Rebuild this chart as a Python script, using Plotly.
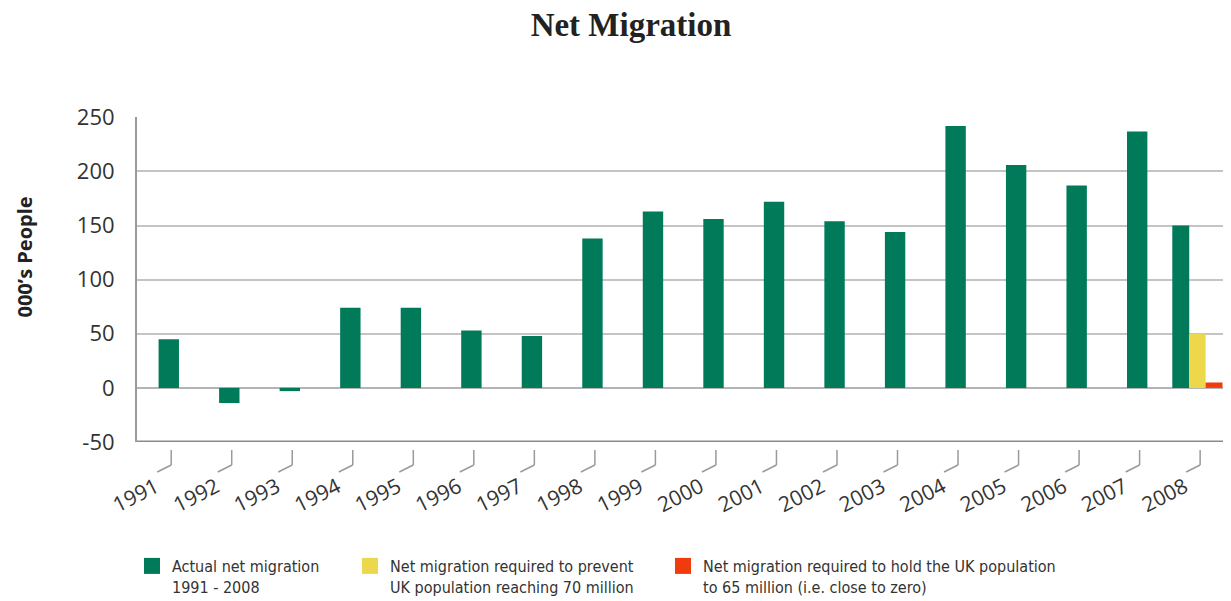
import plotly.graph_objects as go

years = ["1991", "1992", "1993", "1994", "1995", "1996", "1997", "1998", "1999",
         "2000", "2001", "2002", "2003", "2004", "2005", "2006", "2007", "2008"]
actual = [45, -14, -3, 74, 74, 53, 48, 138, 163, 156, 172, 154, 144, 242, 206, 187, 237, 150]
required_70m_year = ["2008"]
required_70m = [50]
required_65m_year = ["2008"]
required_65m = [5]
y_ticks = [-50, 0, 50, 100, 150, 200, 250]
y_tick_text = ["-50", "0", "50", "100", "150", "200", "250"]

GREEN = "#007a58"
YELLOW = "#ecd84a"
RED = "#f03c0c"
TXT = "#333333"
LEG_FONT = "DejaVu Sans Condensed, Roboto, sans-serif"

# page body has an 8px margin: figure coordinates = reference pixels - 8
OFF = 8
W, H = 1231 - OFF, 601 - OFF

n = len(years)
xpos = list(range(n))
g_width = [0.337] * (n - 1) + [0.28]
g_offset = [-0.1685] * (n - 1) + [-0.42]

fig = go.Figure()
fig.add_trace(go.Bar(x=xpos, y=actual, width=g_width, offset=g_offset,
                     marker=dict(color=GREEN, line=dict(width=0)), showlegend=False,
                     name="Actual net migration 1991 - 2008"))
fig.add_trace(go.Bar(x=[years.index(y) for y in required_70m_year], y=required_70m,
                     width=[0.27], offset=[-0.14],
                     marker=dict(color=YELLOW, line=dict(width=0)), showlegend=False,
                     name="Net migration required to prevent UK population reaching 70 million"))
fig.add_trace(go.Bar(x=[years.index(y) for y in required_65m_year], y=required_65m,
                     width=[0.28], offset=[0.13],
                     marker=dict(color=RED, line=dict(width=0)), showlegend=False,
                     name="Net migration required to hold the UK population to 65 million"))

legend_items = [
    ("Actual net migration<br>1991 - 2008", GREEN, "legend"),
    ("Net migration required to prevent<br>UK population reaching 70 million", YELLOW, "legend2"),
    ("Net migration required to hold the UK population<br>to 65 million (i.e. close to zero)", RED, "legend3"),
]
for name, col, lg in legend_items:
    fig.add_trace(go.Scatter(x=[None], y=[None], mode="markers", name=name,
                             marker=dict(symbol="square", size=16, color=col),
                             legend=lg, showlegend=True, hoverinfo="skip"))

# decorative x tick marks
shapes = []
for i in range(n):
    xi = i + 0.04
    shapes.append(dict(type="line", xref="x", yref="paper", x0=xi, x1=xi,
                       y0=-0.0246, y1=-0.0708, line=dict(color="#9a9a9a", width=1.5)))
    shapes.append(dict(type="line", xref="x", yref="paper", x0=xi, x1=xi - 0.231,
                       y0=-0.0708, y1=-0.0923, line=dict(color="#9a9a9a", width=1.5)))
shapes.append(dict(type="line", xref="paper", yref="y", x0=0, x1=1, y0=-50, y1=-50,
                   line=dict(color="#8a8a8a", width=3)))

leg_common = dict(orientation="v", yref="container", xref="container", yanchor="top",
                  xanchor="left", valign="top", bgcolor="rgba(0,0,0,0)",
                  font=dict(family=LEG_FONT, size=16, color=TXT), itemwidth=30)
leg_top = 1 - (549 - OFF) / H

fig.update_layout(
    width=W, height=H,
    margin=dict(l=137 - OFF, r=0, t=117 - OFF, b=H - (442 - OFF), autoexpand=False),
    plot_bgcolor="white", paper_bgcolor="white",
    barmode="overlay",
    title=dict(text="<b>Net Migration</b>", x=(631 - OFF) / W, xanchor="center",
               y=1 - (24 - OFF) / H, yanchor="middle", yref="container",
               font=dict(family="Liberation Serif, Times New Roman, serif", size=33, color="#222222")),
    xaxis=dict(range=[-0.525, 17.55], showgrid=False, showline=False, zeroline=False,
               tickmode="array", tickvals=xpos, ticktext=years,
               ticks="", tickangle=-27, ticklabelstandoff=28, ticklabelshift=-13,
               tickfont=dict(family="Open Sans, sans-serif", size=21, color=TXT)),
    yaxis=dict(range=[-50, 250.3], tickmode="array", tickvals=y_ticks, ticktext=y_tick_text,
               showgrid=True, gridcolor="#c4c4c4", gridwidth=2,
               zeroline=True, zerolinecolor="#b4b4b4", zerolinewidth=2,
               showline=True, linecolor="#9a9a9a", linewidth=2, ticks="",
               ticklabelstandoff=16,
               tickfont=dict(family="Open Sans, sans-serif", size=22, color=TXT)),
    shapes=shapes,
    annotations=[dict(text="<b>000’s People</b>", textangle=-90, xref="paper", yref="paper",
                      x=(24 - 137) / 1094, y=(442 - 257.5) / 325, xanchor="center", yanchor="middle",
                      showarrow=False, font=dict(family="Open Sans, sans-serif", size=20, color="#222222"))],
    legend=dict(x=(132 - OFF) / W, y=leg_top, **leg_common),
    legend2=dict(x=(350 - OFF) / W, y=leg_top, **leg_common),
    legend3=dict(x=(663 - OFF) / W, y=leg_top, **leg_common),
)

fig.write_html("out.html")
